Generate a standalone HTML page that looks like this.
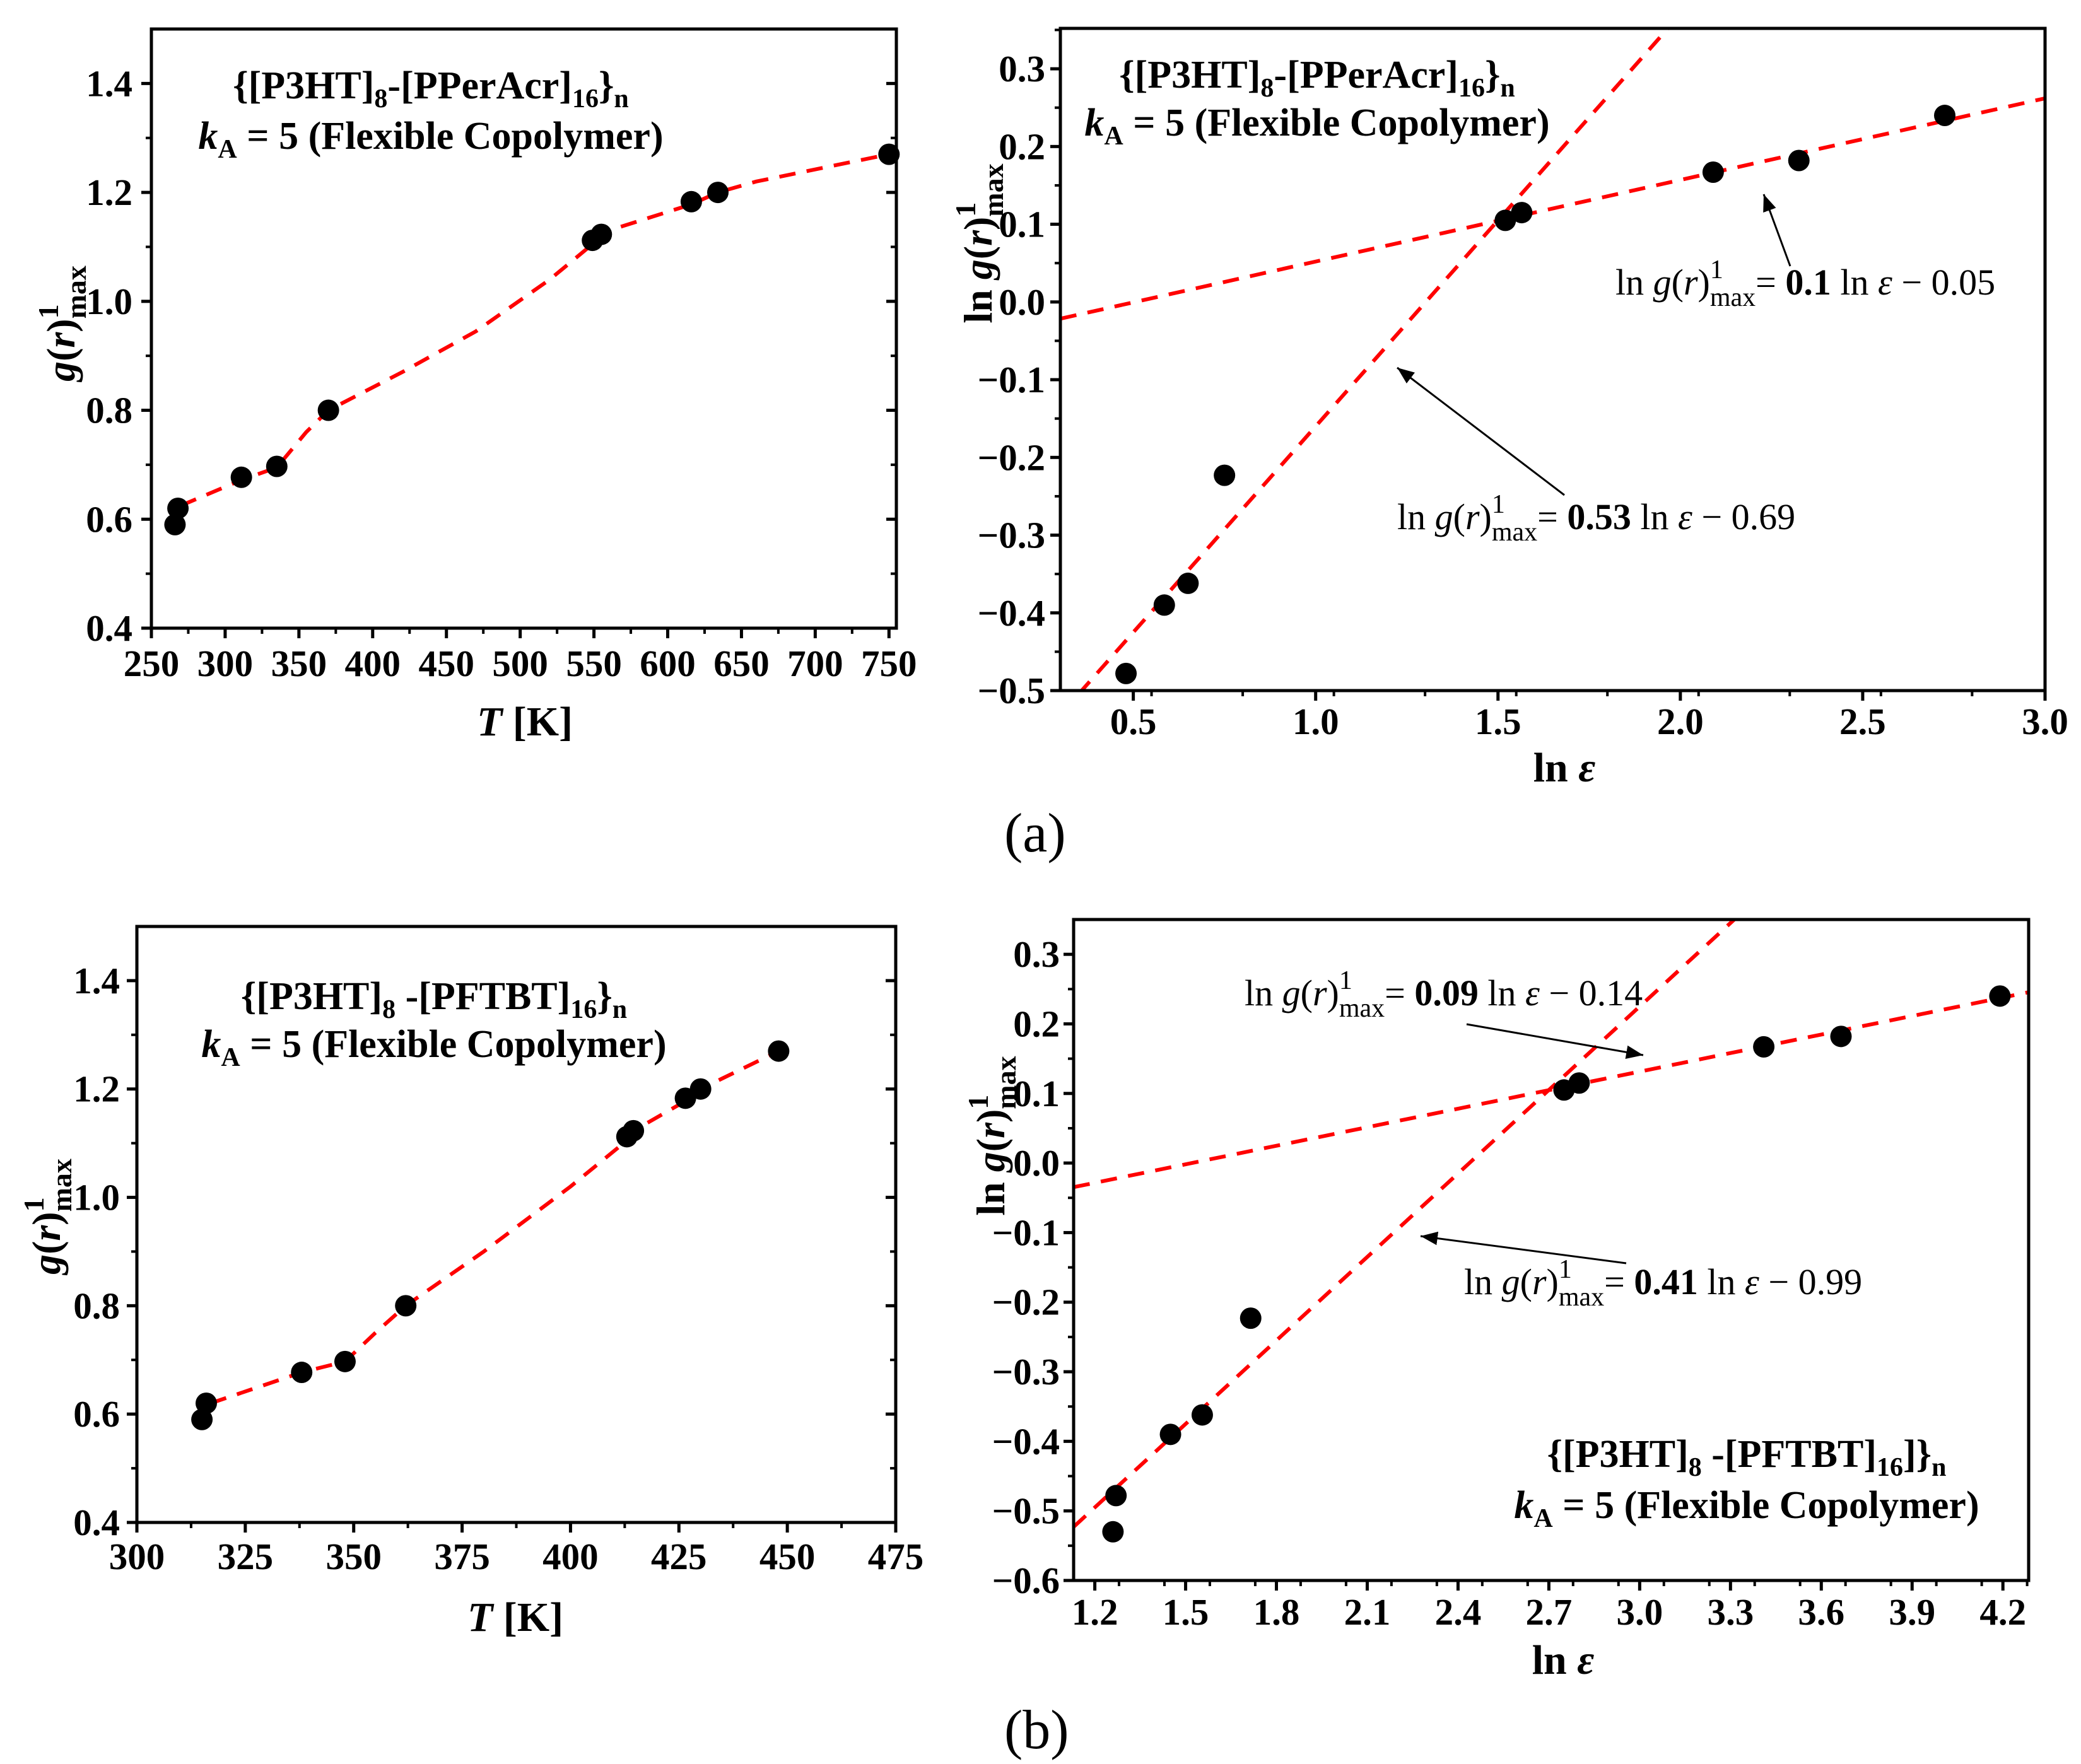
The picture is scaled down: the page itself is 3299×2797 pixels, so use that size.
<!DOCTYPE html>
<html><head><meta charset="utf-8"><style>
html,body{margin:0;padding:0;background:#fff}
svg{display:block}
text{font-family:"Liberation Serif",serif}
</style></head><body>
<svg id="fig" width="3299" height="2797" viewBox="0 0 3299 2797" xmlns="http://www.w3.org/2000/svg">
<defs><marker id="ah" viewBox="0 0 10 10" refX="10" refY="5" markerWidth="9" markerHeight="9" orient="auto"><path d="M0,1 L10,5 L0,9 z" fill="#000"/></marker></defs>
<g id="layer"></g>
<text x="1592" y="1350" font-size="88">(a)</text>
<text x="1592" y="2772" font-size="88">(b)</text>
</svg>
<script>
// ---- data ----
const p1T = [266,268,311,335,370,549,555,616,634,750];
const p1G = [0.59,0.62,0.677,0.697,0.80,1.112,1.123,1.183,1.20,1.27];
const p1FitT = [270,311,335,355,370,420,470,520,549,560,616,634,660,750];
const p1FitG = [0.625,0.672,0.695,0.76,0.80,0.87,0.945,1.04,1.105,1.13,1.178,1.20,1.22,1.27];
const p3T = [315,316,338,348,362,413,414.5,426.5,430,448];
const p3G = [0.59,0.62,0.677,0.697,0.80,1.112,1.123,1.183,1.20,1.27];
const p3FitT = [317,338,348,355,362,380,400,413,415,427,430,448];
const p3FitG = [0.62,0.677,0.697,0.75,0.80,0.90,1.02,1.105,1.125,1.18,1.20,1.27];
const p2X = [0.48,0.585,0.65,0.75,1.52,1.565,2.09,2.325,2.725];
const p2Y = [-0.478,-0.39,-0.362,-0.223,0.105,0.115,0.167,0.182,0.24];
const p2Steep = [0.53,-0.69];
const p2Shallow = [0.105,-0.053];
const p4X = [1.26,1.27,1.45,1.555,1.715,2.75,2.80,3.41,3.665,4.19];
const p4Y = [-0.53,-0.478,-0.39,-0.362,-0.223,0.105,0.115,0.167,0.182,0.24];
const p4Steep = [0.40,-0.975];
const p4Shallow = [0.0888,-0.135];
const p1XTicks = ["250","300","350","400","450","500","550","600","650","700","750"];
const p1YTicks = ["0.4","0.6","0.8","1.0","1.2","1.4"];
const p2XTicks = ["0.5","1.0","1.5","2.0","2.5","3.0"];
const p2YTicks = ["−0.5","−0.4","−0.3","−0.2","−0.1","0.0","0.1","0.2","0.3"];
const p3XTicks = ["300","325","350","375","400","425","450","475"];
const p4XTicks = ["1.2","1.5","1.8","2.1","2.4","2.7","3.0","3.3","3.6","3.9","4.2"];
const p4YTicks = ["−0.6","−0.5","−0.4","−0.3","−0.2","−0.1","0.0","0.1","0.2","0.3"];

const NS="http://www.w3.org/2000/svg";
const layer=document.getElementById('layer');
function mk(tag,attrs,parent){const e=document.createElementNS(NS,tag);for(const k in attrs)e.setAttribute(k,attrs[k]);(parent||layer).appendChild(e);return e;}
const num=s=>parseFloat(s.replace('−','-'));

function panel(cfg){
  const g=mk('g',{});
  
  
  const sx=v=>cfg.L+(v-cfg.x0)/(cfg.x1-cfg.x0)*(cfg.R-cfg.L);
  const sy=v=>cfg.B-(v-cfg.y0)/(cfg.y1-cfg.y0)*(cfg.B-cfg.T);
  cfg.xt.forEach(s=>{const v=num(s),x=sx(v);
    const t=mk('line',{x1:x,x2:x,y1:cfg.B,y2:cfg.B+16,stroke:'#000','stroke-width':5},g);
    
    
    const lb=mk('text',{x:x,y:cfg.xlY,'font-size':59,'font-weight':'bold','text-anchor':'middle'},g);lb.textContent=s;
    
    
  });
  for(let v=cfg.x0;v<=cfg.x1+1e-9;v+=cfg.xm){const x=sx(v);if(x<cfg.L+2||x>cfg.R-2)continue;mk('line',{x1:x,x2:x,y1:cfg.B,y2:cfg.B+9,stroke:'#000','stroke-width':4},g);}
  cfg.yt.forEach(s=>{const v=num(s),y=sy(v);
    const t=mk('line',{x1:cfg.L-16,x2:cfg.L,y1:y,y2:y,stroke:'#000','stroke-width':5},g);
    
    
    if(cfg.rightTicks)mk('line',{x1:cfg.R-16,x2:cfg.R,y1:y,y2:y,stroke:'#000','stroke-width':5},g);
    const lb=mk('text',{x:cfg.ylX,y:y+20,'font-size':59,'font-weight':'bold','text-anchor':'end'},g);lb.textContent=s;
    
    
  });
  for(let v=cfg.y0;v<=cfg.y1+1e-9;v+=cfg.ym){const y=sy(v);if(y<cfg.T+2||y>cfg.B-2)continue;mk('line',{x1:cfg.L-9,x2:cfg.L,y1:y,y2:y,stroke:'#000','stroke-width':4},g);if(cfg.rightTicks)mk('line',{x1:cfg.R-9,x2:cfg.R,y1:y,y2:y,stroke:'#000','stroke-width':4},g);}
  const cid='c'+cfg.name;
  const cp=mk('clipPath',{id:cid},g);mk('rect',{x:cfg.L,y:cfg.T,width:cfg.R-cfg.L,height:cfg.B-cfg.T},cp);
  const inner=mk('g',{'clip-path':'url(#'+cid+')'},g);
  (cfg.lines||[]).forEach(ln=>{
    let pts;
    if(ln.xs){pts=ln.xs.map((x,i)=>sx(x)+','+sy(ln.ys[i]));}
    else{pts=[cfg.x0,cfg.x1].map(x=>sx(x)+','+sy(ln.c[0]*x+ln.c[1]));}
    const pl=mk('polyline',{points:pts.join(' '),fill:'none',stroke:'#ff0000','stroke-width':6,'stroke-dasharray':'26 18'},inner);
    
    
  });
  cfg.px.forEach((x,i)=>{
    const c=mk('circle',{cx:sx(x),cy:sy(cfg.py[i]),r:17,fill:'#000'},g);
    
    
  });
  const fr=mk('rect',{x:cfg.L,y:cfg.T,width:cfg.R-cfg.L,height:cfg.B-cfg.T,fill:'none',stroke:'#000','stroke-width':5},g);
  
  
}

panel({name:'panel-a-left',L:240,R:1421,T:46,B:996,x0:250,x1:755,y0:0.4,y1:1.5,xt:p1XTicks,yt:p1YTicks,xm:25,ym:0.1,xlY:1072,ylX:210,rightTicks:true,
  px:p1T,py:p1G,lines:[{name:'fit-line',xs:p1FitT,ys:p1FitG}]});
panel({name:'panel-a-right',L:1681,R:3242,T:45,B:1095,x0:0.3,x1:3.0,y0:-0.5,y1:0.352,xt:p2XTicks,yt:p2YTicks,xm:0.25,ym:0.05,xlY:1164,ylX:1657,
  px:p2X,py:p2Y,lines:[{name:'steep-fit',c:p2Steep},{name:'shallow-fit',c:p2Shallow}]});
panel({name:'panel-b-left',L:217,R:1420,T:1469,B:2414,x0:300,x1:475,y0:0.4,y1:1.5,xt:p3XTicks,yt:p1YTicks,xm:12.5,ym:0.1,xlY:2488,ylX:190,rightTicks:true,
  px:p3T,py:p3G,lines:[{name:'fit-line',xs:p3FitT,ys:p3FitG}]});
panel({name:'panel-b-right',L:1702,R:3216,T:1458,B:2506,x0:1.13,x1:4.285,y0:-0.6,y1:0.35,xt:p4XTicks,yt:p4YTicks,xm:0.15,ym:0.05,xlY:2576,ylX:1680,
  px:p4X,py:p4Y,lines:[{name:'steep-fit',c:p4Steep},{name:'shallow-fit',c:p4Shallow}]});
</script>
<script>
(function(){
const svg=document.getElementById('fig');
const NS="http://www.w3.org/2000/svg";
function add(html){const g=document.createElementNS(NS,'g');g.innerHTML=html;svg.appendChild(g);return g;}
function title(cx,y1,y2,poly,name){
 return `<g font-weight="bold" font-size="62">
 <text x="${cx}" y="${y1}" text-anchor="middle">${poly}</text>
 <text x="${cx}" y="${y2}" text-anchor="middle"><tspan font-style="italic">k</tspan><tspan font-size="42" dy="14">A</tspan><tspan dy="-14"> = 5 (Flexible Copolymer)</tspan></text></g>`;
}
const sub=(s)=>`<tspan font-size="42" dy="14">${s}</tspan><tspan dy="-14">`;
add(title(683,156,236,`{[P3HT]${sub('8')}-[PPerAcr]${sub('16')}}</tspan>${sub('n')}</tspan></tspan>`,'title-a-left'));
add(title(2088,139,215,`{[P3HT]${sub('8')}-[PPerAcr]${sub('16')}}</tspan>${sub('n')}</tspan></tspan>`,'title-a-right'));
add(title(688,1600,1676,`{[P3HT]${sub('8')} -[PFTBT]${sub('16')}}</tspan>${sub('n')}</tspan></tspan>`,'title-b-left'));
add(title(2769,2326,2407,`{[P3HT]${sub('8')} -[PFTBT]${sub('16')}]}</tspan>${sub('n')}</tspan></tspan>`,'title-b-right'));
function eq(x,y,slope,icpt,name){
 return `<text x="${x}" y="${y}" font-size="58">ln <tspan font-style="italic">g</tspan>(<tspan font-style="italic">r</tspan>)<tspan font-size="42" dy="-26">1</tspan><tspan font-size="42" dx="-21" dy="44">max</tspan><tspan dy="-18">= </tspan><tspan font-weight="bold">${slope}</tspan> ln <tspan font-style="italic">ε</tspan> − ${icpt}</text>`;
}
add(eq(2561,467,'0.1','0.05','equation-a-shallow')+`<line x1="2838" y1="422" x2="2796" y2="308" stroke="#000" stroke-width="3" marker-end="url(#ah)"/>`);
add(eq(2215,839,'0.53','0.69','equation-a-steep')+`<line x1="2480" y1="785" x2="2215" y2="583" stroke="#000" stroke-width="3" marker-end="url(#ah)"/>`);
add(eq(1973,1594,'0.09','0.14','equation-b-shallow')+`<line x1="2325" y1="1624" x2="2605" y2="1673" stroke="#000" stroke-width="3" marker-end="url(#ah)"/>`);
add(eq(2321,2052,'0.41','0.99','equation-b-steep')+`<line x1="2578" y1="2003" x2="2252" y2="1960" stroke="#000" stroke-width="3" marker-end="url(#ah)"/>`);
function xt(cx,y,lnE,name){return lnE?`<text x="${cx}" y="${y}" font-size="66" font-weight="bold" text-anchor="middle">ln <tspan font-style="italic">ε</tspan></text>`:`<text x="${cx}" y="${y}" font-size="66" font-weight="bold" text-anchor="middle"><tspan font-style="italic">T</tspan> [K]</text>`;}
add(xt(832,1166,false,'x-axis-title-a-left')+xt(2480,1239,true,'x-axis-title-a-right')+xt(817,2586,false,'x-axis-title-b-left')+xt(2478,2654,true,'x-axis-title-b-right'));
function yt(x,cy,ln,name){return `<text transform="translate(${x},${cy}) rotate(-90)" font-size="64" font-weight="bold" text-anchor="middle">${ln?'ln ':''}<tspan font-style="italic">g</tspan>(<tspan font-style="italic">r</tspan>)<tspan font-size="46" dy="-26">1</tspan><tspan font-size="46" dx="-23" dy="44">max</tspan></text>`;}
add(yt(118,513,false,'y-axis-title-a-left')+yt(1572,386,true,'y-axis-title-a-right')+yt(95,1929,false,'y-axis-title-b-left')+yt(1592,1801,true,'y-axis-title-b-right'));
})();
</script>
</body></html>
